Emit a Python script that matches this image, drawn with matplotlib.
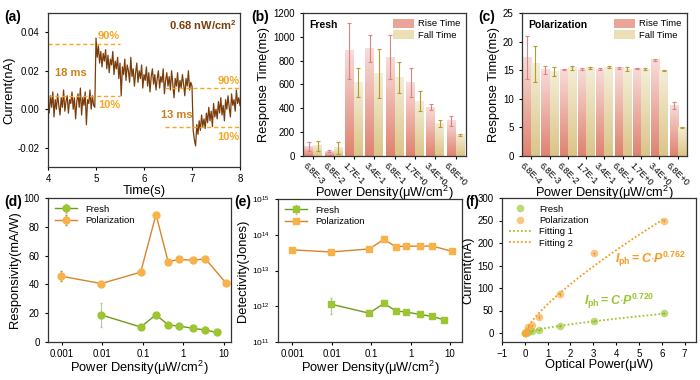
import numpy as np
import matplotlib
matplotlib.use("Agg")
import matplotlib.pyplot as plt
from matplotlib.colors import LinearSegmentedColormap
from matplotlib.patches import Patch

plt.rcParams["font.family"] = ["Liberation Sans", "DejaVu Sans"]
plt.rcParams["mathtext.fontset"] = "custom"
plt.rcParams["mathtext.rm"] = "Liberation Sans"
plt.rcParams["mathtext.it"] = "Liberation Sans:italic"
plt.rcParams["mathtext.bf"] = "Liberation Sans:bold"
plt.rcParams["mathtext.bfit"] = "Liberation Sans:bold:italic"
plt.rcParams["axes.linewidth"] = 0.9
plt.rcParams["axes.edgecolor"] = "#333333"
plt.rcParams["xtick.direction"] = "out"
plt.rcParams["ytick.direction"] = "out"
plt.rcParams["xtick.major.size"] = 2.5
plt.rcParams["ytick.major.size"] = 2.5
plt.rcParams["xtick.major.pad"] = 2.5
plt.rcParams["xtick.labelsize"] = 7
plt.rcParams["ytick.labelsize"] = 7
plt.rcParams["axes.labelsize"] = 9.3

# (a) photocurrent trace, in pA, sampled every 25 ms from 4 s to 8 s
trace_pA = [
    4, -2, 7, 1, 9, -4, 5, 0, 8, 2, -3, 6, 1, 10, -1, 4, 7, -2, 5, 3,
    9, 0, 6, -5, 4, 8, 1, 11, -3, 6, 2, 9, -8, 5, 3, 10, 0, 7, 2, 1,
    37, 27, 33, 24, 30, 22, 29, 25, 31, 21, 28,
    19, 26, 23, 30, 18, 25, 21, 27, 16, 24,
    7, 22, 18, 26, 15, 23, 20, 14, 27, 17,
    21, 12, 19, 24, 14, 20, 16, 23, 11, 18,
    15, 22, 12, 19, 9, 17, 21, 13, 18, 10,
    16, 20, 11, 17, 14, 21, 8, 15, 19, 12,
    17, 10, 20, 13, 6, 16, 12, 19, 9, 15,
    11, 18, 13, 7, 16, 12, 20, 10, 14, 12,
    -11, -16, -19, -8, -13, -6, -11, -3, -9, -5,
    -10, -2, -7, 1, -6, -1, -9, 3, -4, 0,
    -5, 4, -2, 6, -3, 2, -6, 5, 0, 7,
    1, -4, 8, 2, 5, -1, 10, 3, 6, 2,
]
rise_levels = [0.0067, 0.0341]
fall_levels = [0.0109, -0.0092]

# (b) fresh response times
fresh_cats = ["6.8E-3", "6.8E-2", "1.7E-1", "3.4E-1", "6.8E-1", "1.7E+0", "3.4E+0", "6.8E+0"]
fresh_rise = [80, 40, 885, 900, 830, 615, 410, 295]
fresh_rise_err = [38, 10, 235, 115, 185, 120, 25, 40]
fresh_fall = [85, 68, 615, 690, 655, 460, 272, 177]
fresh_fall_err = [42, 48, 120, 205, 130, 85, 32, 10]

# (c) polarization response times
pol_cats = ["6.8E-4", "6.8E-3", "6.8E-2", "1.7E-1", "3.4E-1", "6.8E-1", "1.7E+0", "3.4E+0", "6.8E+0"]
pol_rise = [17.2, 15.1, 15.1, 15.2, 15.2, 15.4, 15.3, 16.8, 8.8]
pol_rise_err = [3.8, 0.7, 0.1, 0.1, 0.1, 0.2, 0.15, 0.2, 0.6]
pol_fall = [16.1, 14.7, 15.4, 15.4, 15.5, 15.2, 15.2, 15.0, 5.0]
pol_fall_err = [3.1, 0.8, 0.3, 0.2, 0.2, 0.3, 0.2, 0.1, 0.05]

# (d), (e) responsivity and detectivity vs power density
pol_density = [0.00095, 0.0093, 0.088, 0.21, 0.42, 0.76, 1.73, 3.5, 11.4]
fresh_density = [0.0093, 0.088, 0.21, 0.42, 0.76, 1.73, 3.5, 6.8]
pol_resp = [45.7, 40.6, 48.5, 88.5, 55.7, 57.3, 56.8, 57.7, 40.8]
pol_resp_err = [3.5, 1.0, 1.0, 1.0, 1.0, 1.0, 1.0, 1.0, 1.0]
fresh_resp = [18.8, 10.4, 18.9, 11.8, 11.1, 9.5, 8.3, 6.6]
fresh_resp_err = [8.3, 0.5, 0.5, 0.5, 0.5, 0.5, 0.5, 0.5]
pol_det = [3.8e13, 3.3e13, 4.0e13, 7.4e13, 4.6e13, 4.85e13, 4.75e13, 4.85e13, 3.4e13]
fresh_det = [1.15e12, 6.4e11, 1.2e12, 7.4e11, 6.9e11, 5.9e11, 5.2e11, 4.2e11]
fresh_det_err_lo = [5.3e11, 0, 0, 0, 0, 0, 0, 0]
fresh_det_err_hi = [6.0e11, 0, 0, 0, 0, 0, 0, 0]

# (f) photocurrent vs optical power
pol_power = [0.00061, 0.0061, 0.061, 0.152, 0.304, 0.61, 1.52, 3.04, 6.08]
pol_current = [0.03, 0.25, 3.0, 13.5, 17.0, 35.0, 87.0, 177.0, 250.0]
fresh_power = [0.0061, 0.061, 0.152, 0.304, 0.61, 1.52, 3.04, 6.08]
fresh_current = [0.1, 0.6, 2.9, 3.6, 7.4, 14.7, 26.5, 44.0]
fit1_C, fit1_exp = 11.7, 0.720
fit2_C, fit2_exp = 64.0, 0.762

BROWN = "#7a3d0a"
ORANGE = "#f5a623"
DARK_ORANGE = "#c98018"
GREEN = "#9cc531"
GREEN_LINE = "#6e9a1f"
ORANGE_LINE = "#d8842a"
RISE_COLORS = ("#df8270", "#f8dcd8")
FALL_COLORS = ("#dbc487", "#f4eed9")
RISE_ERR = "#d9838a"
FALL_ERR = "#b8992e"


def px_rect(x0, y0, x1, y1, W=700, H=380):
    return [x0 / W, 1 - y1 / H, (x1 - x0) / W, (y1 - y0) / H]


def gradient_bars(ax, bars, colors):
    cmap = LinearSegmentedColormap.from_list("g", list(colors))
    grad = np.linspace(0, 1, 128).reshape(-1, 1)
    for bar in bars:
        x, y = bar.get_xy()
        w, h = bar.get_width(), bar.get_height()
        ax.imshow(grad, extent=[x, x + w, y, y + h], origin="lower",
                  cmap=cmap, aspect="auto", zorder=1)
        bar.set_facecolor("none")


def response_panel(ax, cats, rise, rise_err, fall, fall_err, ymax, yticks, title):
    idx = np.arange(len(cats))
    w = 0.44
    b1 = ax.bar(idx - w / 2, rise, w, linewidth=0)
    b2 = ax.bar(idx + w / 2, fall, w, linewidth=0)
    gradient_bars(ax, b1, RISE_COLORS)
    gradient_bars(ax, b2, FALL_COLORS)
    ax.errorbar(idx - w / 2, rise, yerr=rise_err, fmt="none", ecolor=RISE_ERR,
                elinewidth=0.8, capsize=1.5, capthick=0.8, zorder=3)
    ax.errorbar(idx + w / 2, fall, yerr=fall_err, fmt="none", ecolor=FALL_ERR,
                elinewidth=0.8, capsize=1.5, capthick=0.8, zorder=3)
    ax.set_xlim(-0.5, len(cats) - 0.5)
    ax.set_ylim(0, ymax)
    ax.set_yticks(yticks)
    ax.set_xticks(idx)
    ax.set_xticklabels(cats, rotation=-45, ha="center", fontsize=6.5)
    ax.tick_params(axis="x", pad=1)
    ax.set_xlabel("Power Density(\u03bcW/cm$^2$)", labelpad=-2.5)
    ax.set_ylabel("Response Time(ms)", labelpad=2)
    ax.text(0.04, 0.915, title, transform=ax.transAxes, fontsize=7.5,
            fontweight="bold", va="center")
    handles = [Patch(facecolor="#eba598", edgecolor="none"),
               Patch(facecolor="#ecdfb5", edgecolor="none")]
    ax.legend(handles, ["Rise Time", "Fall Time"], loc="upper right",
              frameon=False, fontsize=6.8, handlelength=2.2, handleheight=1.1,
              borderaxespad=0.2, labelspacing=0.15, handletextpad=0.4)


fig = plt.figure(figsize=(7, 3.8), dpi=100)

# ---- (a)
ax = fig.add_axes(px_rect(48, 13, 240, 167))
t = np.linspace(4, 8, len(trace_pA))
ax.plot(t, np.array(trace_pA) / 1000, color=BROWN, lw=0.9)
dash = dict(color=ORANGE, ls=(0, (3, 2)), lw=1.0)
for lvl in rise_levels:
    ax.plot([4, 5.51], [lvl, lvl], **dash)
for lvl in fall_levels:
    ax.plot([6.44, 8], [lvl, lvl], **dash)
note = dict(fontsize=8, fontweight="bold", va="center")
ax.text(5.04, 0.0378, "90%", color=ORANGE, **note)
ax.text(5.04, 0.0022, "10%", color=ORANGE, **note)
ax.text(4.15, 0.0187, "18 ms", color=DARK_ORANGE, **note)
ax.text(7.02, -0.003, "13 ms", color=DARK_ORANGE, ha="right", **note)
ax.text(7.99, 0.0145, "90%", color=ORANGE, ha="right", **note)
ax.text(7.99, -0.0142, "10%", color=ORANGE, ha="right", **note)
ax.text(7.92, 0.0435, "0.68 nW/cm$^\\mathbf{2}$", color=BROWN, fontsize=8,
        fontweight="bold", va="center", ha="right")
ax.set_xlim(4, 8)
ax.set_ylim(-0.03, 0.05)
ax.set_xticks([4, 5, 6, 7, 8])
ax.set_yticks([-0.02, 0.0, 0.02, 0.04])
ax.set_yticklabels(["-0.02", "0.00", "0.02", "0.04"])
ax.set_xlabel("Time(s)", labelpad=1)
ax.set_ylabel("Current(nA)", labelpad=2)

# ---- (b)
ax = fig.add_axes(px_rect(303, 13, 466, 156))
response_panel(ax, fresh_cats, fresh_rise, fresh_rise_err, fresh_fall,
               fresh_fall_err, 1200, range(0, 1201, 200), "Fresh")

# ---- (c)
ax = fig.add_axes(px_rect(522, 13, 687, 156))
response_panel(ax, pol_cats, pol_rise, pol_rise_err, pol_fall,
               pol_fall_err, 25, range(0, 26, 5), "Polarization")

log_ticks = [0.001, 0.01, 0.1, 1, 10]
log_labels = ["0.001", "0.01", "0.1", "1", "10"]

# ---- (d)
ax = fig.add_axes(px_rect(48, 198, 231, 342))
ax.errorbar(fresh_density, fresh_resp, yerr=fresh_resp_err, color=GREEN_LINE,
            ecolor="#b9c4a6", elinewidth=0.8, capsize=1, lw=1.0, marker="o",
            ms=5, mfc=GREEN, mec=GREEN, label="Fresh")
ax.errorbar(pol_density, pol_resp, yerr=pol_resp_err, color=ORANGE_LINE,
            ecolor="#c7894a", elinewidth=0.8, capsize=1, lw=1.0, marker="o",
            ms=5, mfc="#f8b24a", mec="#f8b24a", label="Polarization")
ax.set_xscale("log")
ax.set_xlim(4.5e-4, 15)
ax.set_ylim(0, 100)
ax.set_yticks(range(0, 101, 20))
ax.set_xticks(log_ticks)
ax.set_xticklabels(log_labels)
ax.minorticks_off()
ax.set_xlabel("Power Density(\u03bcW/cm$^2$)", labelpad=0)
ax.set_ylabel("Responsivity(mA/W)", labelpad=2)
ax.legend(loc="upper left", frameon=False, fontsize=6.8, handlelength=2.4,
          borderaxespad=0.3, labelspacing=0.3)

# ---- (e)
ax = fig.add_axes(px_rect(278, 199, 462, 342))
ax.errorbar(fresh_density, fresh_det, yerr=[fresh_det_err_lo, fresh_det_err_hi],
            color=GREEN_LINE, ecolor="#b9c4a6", elinewidth=0.8, capsize=1,
            lw=1.0, marker="s", ms=5, mfc=GREEN, mec=GREEN, label="Fresh")
ax.plot(pol_density, pol_det, color=ORANGE_LINE, lw=1.0, marker="s", ms=5,
        mfc="#f8b24a", mec="#f8b24a", label="Polarization")
ax.set_xscale("log")
ax.set_yscale("log")
ax.set_xlim(4.3e-4, 20)
ax.set_ylim(1e11, 1e15)
ax.set_yticks([1e11, 1e12, 1e13, 1e14, 1e15])
ax.tick_params(axis="y", labelsize=6)
ax.set_xticks(log_ticks)
ax.set_xticklabels(log_labels)
ax.minorticks_off()
ax.set_xlabel("Power Density(\u03bcW/cm$^2$)", labelpad=0)
ax.set_ylabel("Detectivity(Jones)", labelpad=2)
h, l = ax.get_legend_handles_labels()
order = [l.index("Fresh"), l.index("Polarization")]
ax.legend([h[i] for i in order], [l[i] for i in order], loc="upper left",
          frameon=False, fontsize=6.8, handlelength=2.4, borderaxespad=0.3,
          labelspacing=0.3)

# ---- (f)
ax = fig.add_axes(px_rect(502, 198, 696, 342))
p1 = np.linspace(0, max(fresh_power), 200)
ax.plot(p1, fit1_C * p1 ** fit1_exp, color=GREEN, ls=(0, (1, 1.2)), lw=1.3,
        label="Fitting 1", zorder=2)
ax.plot(p1, fit2_C * p1 ** fit2_exp, color="#f79a1e", ls=(0, (1, 1.2)), lw=1.3,
        label="Fitting 2", zorder=2)
ax.errorbar(fresh_power, fresh_current, yerr=2, xerr=0.05, fmt="none",
            ecolor="#6f8f1f", elinewidth=0.6, zorder=3)
ax.errorbar(pol_power, pol_current, yerr=4, xerr=0.05, fmt="none",
            ecolor="#c9741a", elinewidth=0.6, zorder=3)
ax.plot(fresh_power, fresh_current, ls="none", marker="o", ms=5.5,
        color=GREEN, alpha=0.65, mec="none", label="Fresh", zorder=4)
ax.plot(pol_power, pol_current, ls="none", marker="o", ms=5.5,
        color="#f7a93a", alpha=0.65, mec="none", label="Polarization", zorder=4)
ax.set_xlim(-1, 7.5)
ax.set_ylim(-20, 300)
ax.set_xticks(range(-1, 8))
ax.set_yticks(range(0, 301, 50))
ax.set_xlabel("Optical Power(\u03bcW)", labelpad=0)
ax.set_ylabel("Current(nA)", labelpad=2)
h, l = ax.get_legend_handles_labels()
order = [2, 3, 0, 1]
ax.legend([h[i] for i in order], [l[i] for i in order], loc="upper left",
          frameon=False, fontsize=6.8, handlelength=2.4, borderaxespad=0.3,
          labelspacing=0.25)
fit_label = r"$\mathbfit{I}_{\mathbf{ph}}\mathbf{=}\mathbfit{C}\mathbf{\cdot}\mathbfit{P}^{\mathbf{%.3f}}$"
ax.text(3.95, 155, fit_label % fit2_exp, color="#f79a1e", fontsize=9)
ax.text(2.6, 62, fit_label % fit1_exp, color=GREEN, fontsize=9)

# panel letters
for lbl, x, y in [("(a)", 4, 17), ("(b)", 251, 17), ("(c)", 478, 17),
                  ("(d)", 4, 202), ("(e)", 234, 202), ("(f)", 465, 202)]:
    fig.text(x / 700, 1 - y / 380, lbl, fontsize=10, fontweight="bold",
             va="center", ha="left")

fig.savefig("out.png", dpi=100)
